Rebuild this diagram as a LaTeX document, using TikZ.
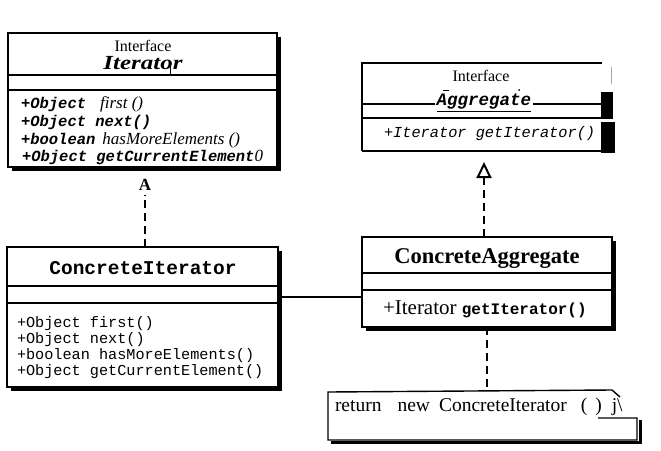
\documentclass[tikz,border=0pt]{standalone}
\usepackage{fontspec}
\usepackage{graphicx}
\setmainfont{Liberation Serif}
\setmonofont{Liberation Mono}
\usetikzlibrary{arrows.meta}
\newcommand\pxsize[1]{\fontsize{#1}{#1}\selectfont}

\begin{document}
\begin{tikzpicture}[x=1pt,y=-1pt,
  frame/.style={draw=none, inner sep=0pt, outer sep=0pt, anchor=north west},
  border/.style={line width=1.4pt},
  shade/.style={line width=3pt},
  sep/.style={line width=1.4pt},
  txt/.style={inner sep=0pt, outer sep=0pt},
  meth/.style={txt, anchor=base west},
  dep/.style={line width=2pt, dash pattern=on 8pt off 5pt},
  assoc/.style={line width=1.2pt},
  realize/.style={dep, -{Triangle[open, width=15pt, length=16pt, line width=2pt]}},
]
\useasboundingbox[fill=white] (0,0) rectangle (661,450);

% ---------- interface Iterator ----------
\node[frame, minimum width=269pt, minimum height=134pt] (iter) at (8,33) {};
\draw[border] (iter.north west) rectangle (iter.south east);
\draw[shade] ([shift={(2,4)}]iter.north east) -- ([shift={(2,2)}]iter.south east)
             -- ([shift={(4,2)}]iter.south west);
\draw[sep] (iter.west |- 0,75) -- (iter.east |- 0,75);
\draw[sep] (iter.west |- 0,90) -- (iter.east |- 0,90);
\draw[line width=0.6pt] (170,62) -- (170,75);
\node[txt] (iterkw) at (143,46) {\pxsize{16}Interface};
\node[txt] (itername) at (143,63) {\scalebox{1.25}[1]{\pxsize{20}\bfseries\itshape Iterator}};
\node[meth] (im1) at (21,108) {\pxsize{15.5}\ttfamily\bfseries\itshape +Object\hspace{14pt}{\rmfamily\mdseries\pxsize{17}first ()}};
\node[meth] (im2) at (21,126) {\pxsize{15.5}\ttfamily\bfseries\itshape +Object next()};
\node[meth] (im3) at (21,144) {\pxsize{15.5}\ttfamily\bfseries\itshape +boolean\hspace{7pt}{\rmfamily\mdseries\pxsize{17}hasMoreElements ()}};
\node[meth] (im4) at (22,161) {\pxsize{15.5}\ttfamily\bfseries\itshape +Object getCurrentElement{\rmfamily\mdseries\pxsize{17}0}};

% ---------- interface Aggregate ----------
\node[frame, minimum width=240pt, minimum height=88pt] (agg) at (362,63) {};
\draw[border] (agg.north east) -- (agg.north west) -- (agg.south west);
\draw[line width=2.6pt] (agg.south west) -- (agg.south east);
\draw[sep] (agg.west |- 0,104) -- (agg.east |- 0,104);
\draw[sep] (agg.west |- 0,118) -- (agg.east |- 0,118);
\fill[black] (601,92) rectangle (613,119);
\fill[black] (601,122) rectangle (615,153);
\draw[gray!70, line width=1pt] (611,67) -- (611,84);
\draw[line width=1pt] (443,90) -- (449,90);
\fill (519,90) circle (1pt);
\node[txt] (aggkw) at (481,76) {\pxsize{16}Interface};
\node[txt, fill=white, inner xsep=2pt, inner ysep=1pt] (aggname) at (484,103)
  {\underline{\pxsize{17.5}\ttfamily\bfseries\itshape Aggregate}};
\node[meth] (am1) at (384,137) {\pxsize{15.3}\ttfamily\itshape +Iterator getIterator()};

% ---------- class ConcreteIterator ----------
\node[frame, minimum width=271pt, minimum height=140pt] (citer) at (7,247) {};
\draw[border] (citer.north west) rectangle (citer.south east);
\draw[shade] ([shift={(2,4)}]citer.north east) -- ([shift={(2,2)}]citer.south east)
             -- ([shift={(4,2)}]citer.south west);
\draw[sep] (citer.west |- 0,286) -- (citer.east |- 0,286);
\draw[sep] (citer.west |- 0,303) -- (citer.east |- 0,303);
\node[txt] (citername) at (143,268) {\pxsize{19.5}\ttfamily\bfseries ConcreteIterator};
\node[meth] (cm1) at (17,327) {\pxsize{15.2}\ttfamily +Object first()};
\node[meth] (cm2) at (17,343) {\pxsize{15.2}\ttfamily +Object next()};
\node[meth] (cm3) at (17,359) {\pxsize{15.2}\ttfamily +boolean hasMoreElements()};
\node[meth] (cm4) at (17,375) {\pxsize{15.2}\ttfamily +Object getCurrentElement()};

% ---------- class ConcreteAggregate ----------
\node[frame, minimum width=250pt, minimum height=90pt] (cagg) at (362,237) {};
\draw[border] (cagg.north west) rectangle (cagg.south east);
\draw[shade] ([shift={(2,4)}]cagg.north east) -- ([shift={(2,2)}]cagg.south east)
             -- ([shift={(4,2)}]cagg.south west);
\draw[sep] (cagg.west |- 0,273) -- (cagg.east |- 0,273);
\draw[sep] (cagg.west |- 0,290) -- (cagg.east |- 0,290);
\node[txt] (caggname) at (487,259) {\pxsize{22.5}\bfseries ConcreteAggregate};
\node[meth] (cam1) at (383,314) {\pxsize{21}+Iterator \pxsize{16}\ttfamily\bfseries getIterator()};

% ---------- note ----------
\node[frame, minimum width=309pt, minimum height=48pt] (note) at (328,392) {};
\draw[border] (612,390) -- (note.north west) -- (note.south west) -- (637,440) -- (637,418) -- (598,418);
\draw[border] (612,390) -- (620,397);
\draw[shade] (640,420) -- (640,442) -- (331,442);
\node[meth] (notetext) at (335,411) {\pxsize{19.5}return\hspace{16pt}new\hspace{9pt}ConcreteIterator\hspace{14pt}(\hspace{8pt})\hspace{10pt}j\textbackslash};

% ---------- connectors ----------
\node[txt] (alabel) at (145,185) {\pxsize{17}\bfseries A};
\draw[dep] (alabel.south |- citer.north) -- ([yshift=-4pt]alabel.south);
\coordinate (tritip) at (484,162);
\draw[realize] (tritip |- cagg.north) -- (tritip);
\draw[assoc] (citer.east |- 0,297) -- (cagg.west |- 0,297);
\draw[dep] (487,327) -- (487,390);
\end{tikzpicture}
\end{document}
